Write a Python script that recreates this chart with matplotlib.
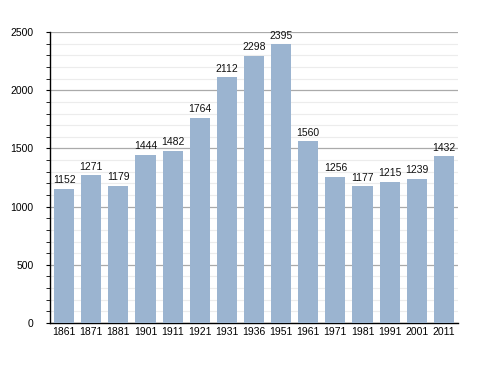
import matplotlib
matplotlib.use("Agg")
import matplotlib.pyplot as plt
from matplotlib.ticker import MultipleLocator

years = ["1861", "1871", "1881", "1901", "1911", "1921", "1931", "1936", "1951",
         "1961", "1971", "1981", "1991", "2001", "2011"]
population = [1152, 1271, 1179, 1444, 1482, 1764, 2112, 2298, 2395,
              1560, 1256, 1177, 1215, 1239, 1432]

plt.rcParams['font.family'] = ['Liberation Sans', 'DejaVu Sans']
fig = plt.figure(figsize=(4.88, 3.73), dpi=100)
ax = fig.add_axes([0.1025, 0.134, 0.836, 0.780])

x = list(range(len(years)))
ax.bar(x, population, width=0.74, color="#9bb4d0", zorder=3)
for xi, v in zip(x, population):
    ax.text(xi, v + 30, str(v), ha="center", va="bottom", fontsize=7.5, color="#111111", zorder=4)

ax.set_xlim(-0.52, len(years) - 0.48)
ax.set_ylim(0, 2500)
ax.yaxis.set_major_locator(MultipleLocator(500))
ax.yaxis.set_minor_locator(MultipleLocator(100))
ax.grid(axis="y", which="major", color="#aaaaaa", linewidth=0.9, zorder=1)
ax.grid(axis="y", which="minor", color="#ececec", linewidth=0.8, zorder=0)
ax.set_xticks(x)
ax.set_xticklabels(years)
ax.tick_params(axis="x", length=0, labelsize=7.5, pad=3)
ax.tick_params(axis="y", which="major", length=3, labelsize=7.5, direction="out", pad=9)
ax.tick_params(axis="y", which="minor", length=3, direction="out")
for s in ["top", "right"]:
    ax.spines[s].set_visible(False)
ax.spines["left"].set_linewidth(1.0)
ax.spines["bottom"].set_linewidth(1.0)
fig.savefig("out.png", dpi=100)
